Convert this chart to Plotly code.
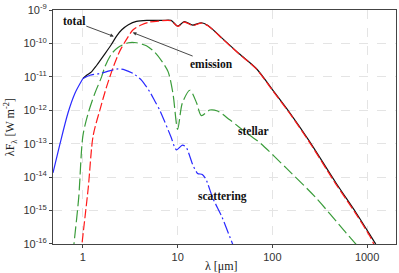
import plotly.graph_objects as go

# ---- data (wavelength in micron, lambda*F_lambda in W m^-2) ----
scat_lam = [0.483, 0.573, 0.695, 0.824, 1.0, 1.186, 1.514, 1.905, 2.344, 2.754, 3.388, 4.169,
            5.07, 5.754, 6.457, 8.51, 9.33, 9.77, 11.22, 12.3, 14.45, 16.22, 18.2, 19.95,
            23.44, 29.51, 38.02, 41.69]
scat_val = [1.35e-14, 1.0e-13, 8.3e-13, 3.24e-12, 8.9e-12, 1.12e-11, 1.26e-11, 1.51e-11, 1.74e-11,
            1.62e-11, 1.26e-11, 7.9e-12, 3.6e-12, 1.86e-12, 1.02e-12, 1.58e-13, 7.6e-14, 6.5e-14,
            9.1e-14, 7.9e-14, 2.34e-14, 1.29e-14, 1.2e-14, 8.5e-15, 2.4e-15, 6.2e-16, 1.0e-16, 5.6e-17]

stel_lam = [0.785, 0.804, 0.902, 1.0, 1.138, 1.337, 1.574, 1.698, 1.995, 2.344, 3.02, 3.673,
            4.677, 5.754, 6.918, 7.943, 8.913, 10.0, 11.22, 13.49, 15.85, 17.78, 21.88, 26.3,
            35.48, 57.54, 72.44, 141.3, 288.4, 602.6, 758.6, 831.8]
stel_val = [5.0e-17, 1.0e-16, 2.4e-15, 1.74e-13, 8.3e-13, 3.24e-12, 1.0e-11, 1.95e-11, 4.8e-11,
            7.6e-11, 1.05e-10, 1.05e-10, 8.5e-11, 5.4e-11, 2.75e-11, 1.41e-11, 3.24e-12, 2.7e-13,
            1.66e-12, 3.98e-12, 1.66e-12, 6.9e-13, 1.02e-12, 9.5e-13, 5.2e-13, 1.78e-13, 1.12e-13,
            1.82e-14, 2.4e-15, 2.1e-16, 1.0e-16, 7.1e-17]

emis_lam = [0.955, 0.977, 1.138, 1.282, 1.514, 1.778, 2.089, 2.455, 2.884, 3.388, 4.169, 5.07,
            6.31, 8.51, 10.0, 11.75, 14.45, 17.78, 20.89, 30.2, 44.67, 67.61, 100, 151.4, 245.5,
            467.7, 758.6, 1096, 1175, 1259]
emis_val = [5.0e-17, 1.0e-16, 4.8e-15, 1.74e-13, 1.05e-12, 5.1e-12, 1.95e-11, 6.0e-11, 1.32e-10,
            2.57e-10, 3.63e-10, 4.37e-10, 4.68e-10, 4.79e-10, 3.24e-10, 4.37e-10, 3.47e-10,
            4.07e-10, 3.39e-10, 1.32e-10, 4.8e-11, 1.74e-11, 3.98e-12, 8.3e-13, 1.12e-13, 6.2e-15,
            8.1e-16, 1.51e-16, 1.0e-16, 7.1e-17]

tot_lam = [1.0, 1.094, 1.23, 1.393, 1.698, 1.995, 2.265, 2.57, 3.02, 3.673, 4.786, 6.918, 8.51,
           10.0, 11.75, 14.45, 17.78, 20.89, 30.2, 44.67, 67.61, 100, 151.4, 245.5, 467.7, 758.6,
           1096, 1230, 1318]
tot_val = [8.9e-12, 1.12e-11, 1.41e-11, 2.19e-11, 4.8e-11, 9.3e-11, 1.66e-10, 2.57e-10, 3.63e-10,
           4.57e-10, 4.9e-10, 4.9e-10, 4.9e-10, 3.31e-10, 4.47e-10, 3.55e-10, 4.17e-10, 3.47e-10,
           1.35e-10, 4.9e-11, 1.78e-11, 4.17e-12, 8.7e-13, 1.2e-13, 6.8e-15, 8.9e-16, 1.7e-16,
           1.0e-16, 7.1e-17]

x_ticks = [1, 10, 100, 1000]
x_ticktext = ["1", "10", "100", "1000"]
y_ticks = [1e-9, 1e-10, 1e-11, 1e-12, 1e-13, 1e-14, 1e-15, 1e-16]
y_ticktext = ["10<sup>-9</sup>", "10<sup>-10</sup>", "10<sup>-11</sup>", "10<sup>-12</sup>",
              "10<sup>-13</sup>", "10<sup>-14</sup>", "10<sup>-15</sup>", "10<sup>-16</sup>"]

BLACK = "#111111"
RED = "#ff1a1a"
GREEN = "#3a9c3a"
BLUE = "#2a2aff"
LW = 1.2
split = scat_lam.index(1.0)

fig = go.Figure()
fig.add_trace(go.Scatter(x=tot_lam, y=tot_val, mode="lines",
                         line=dict(color=BLACK, width=LW, shape="spline", smoothing=0.8)))
fig.add_trace(go.Scatter(x=emis_lam, y=emis_val, mode="lines",
                         line=dict(color=RED, width=LW, dash="9px,3px", shape="spline", smoothing=0.8)))
fig.add_trace(go.Scatter(x=stel_lam, y=stel_val, mode="lines",
                         line=dict(color=GREEN, width=LW, dash="12px,4px", shape="spline", smoothing=0.8)))
fig.add_trace(go.Scatter(x=scat_lam[:split + 1], y=scat_val[:split + 1], mode="lines",
                         line=dict(color=BLUE, width=LW, shape="spline", smoothing=0.8)))
fig.add_trace(go.Scatter(x=scat_lam[split:], y=scat_val[split:], mode="lines",
                         line=dict(color=BLUE, width=LW, dash="12px,3px,2px,3px",
                                   shape="spline", smoothing=0.6)))

lab_font = dict(family="Liberation Serif, Times New Roman, serif", size=11.5, color="#111111")
tick_font = dict(family="Liberation Sans, Arial, sans-serif", size=11, color="#333333")

annotations = [
    dict(x=0.326, y=-9.79, xref="x", yref="y", text="<b>total</b>", showarrow=True,
         ax=-40, ay=-15, arrowhead=2, arrowsize=0.8, arrowwidth=0.9, arrowcolor="#333333",
         font=lab_font),
    dict(x=0.526, y=-9.674, xref="x", yref="y", text="<b>emission</b>", showarrow=True,
         ax=79, ay=31, arrowhead=2, arrowsize=0.8, arrowwidth=0.9, arrowcolor="#333333",
         font=lab_font),
    dict(x=(254 - 83) / 95, y=-9 - (129 - 5) / 34.14, xref="x", yref="y",
         text="<b>stellar</b>", showarrow=False, font=lab_font),
    dict(x=(223 - 83) / 95, y=-9 - (195 - 5) / 34.14, xref="x", yref="y",
         text="<b>scattering</b>", showarrow=False, font=lab_font),
    dict(x=(10 - 53) / 344, y=0.5, xref="paper", yref="paper", textangle=-90,
         xanchor="center", yanchor="middle",
         text="λF<sub>λ</sub> [W m<sup>-2</sup>]", showarrow=False,
         font=dict(family="Liberation Serif, Times New Roman, serif", size=12, color="#222222")),
    dict(x=(222 - 53) / 344, y=(244 - 266) / 239, xref="paper", yref="paper",
         text="λ [μm]", showarrow=False, yanchor="middle",
         font=dict(family="Liberation Serif, Times New Roman, serif", size=12, color="#222222")),
]

fig.update_layout(
    width=399, height=273,
    margin=dict(l=53, r=2, t=5, b=29),
    paper_bgcolor="white", plot_bgcolor="white",
    showlegend=False,
    annotations=annotations,
    xaxis=dict(type="log", range=[-0.316, 3.305], tickvals=x_ticks, ticktext=x_ticktext,
               ticks="outside", ticklen=3, tickcolor="#444444", tickfont=tick_font,
               ticklabeloverflow="allow",
               showline=True, linecolor="#444444", linewidth=1, mirror=True,
               showgrid=True, gridcolor="#e4e4e4", griddash="dash", gridwidth=1, zeroline=False),
    yaxis=dict(type="log", range=[-16.001, -8.999], tickvals=y_ticks, ticktext=y_ticktext,
               ticks="outside", ticklen=3, tickcolor="#444444", tickfont=tick_font,
               ticklabeloverflow="allow",
               showline=True, linecolor="#444444", linewidth=1, mirror=True,
               showgrid=True, gridcolor="#e4e4e4", griddash="dash", gridwidth=1, zeroline=False),
)

fig.write_html("out.html", config={"displayModeBar": False},
               post_script="document.body.style.margin='0';document.body.style.padding='0';")
